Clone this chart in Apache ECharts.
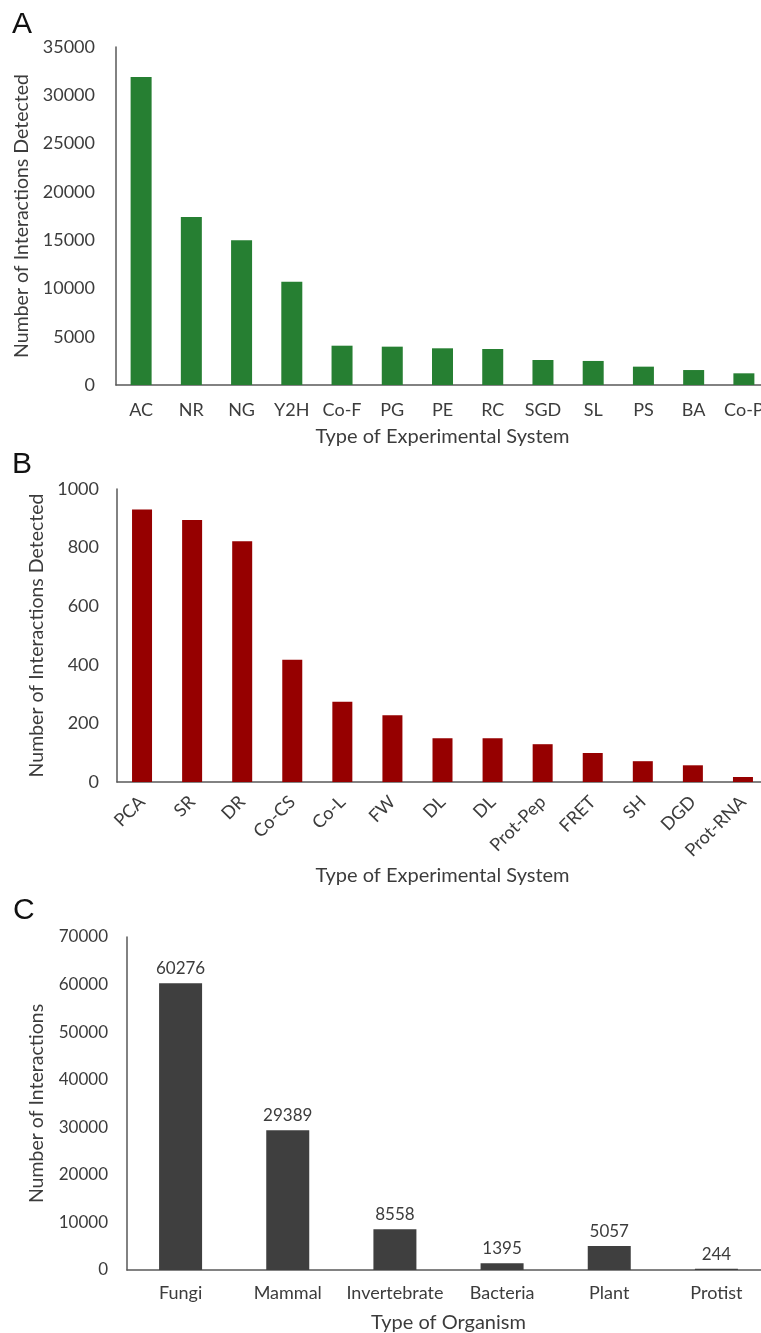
<!DOCTYPE html>
<html><head><meta charset="utf-8">
<script src="https://cdn.jsdelivr.net/npm/echarts@6/dist/echarts.min.js"></script>
<style>html,body{margin:0;padding:0;background:#fff}#c{width:761px;height:1333px}</style>
</head><body><div id="c"></div>
<script>
const catsA = ['AC','NR','NG','Y2H','Co-F','PG','PE','RC','SGD','SL','PS','BA','Co-P'];
const valsA = [31900, 17400, 15000, 10700, 4070, 3970, 3800, 3730, 2590, 2490, 1900, 1550, 1210];
const catsB = ['PCA','SR','DR','Co-CS','Co-L','FW','DL','DL','Prot-Pep','FRET','SH','DGD','Prot-RNA'];
const valsB = [930, 894, 822, 417, 274, 228, 149, 149, 129, 99, 71, 57, 17];
const catsC = ['Fungi','Mammal','Invertebrate','Bacteria','Plant','Protist'];
const valsC = [60276, 29389, 8558, 1395, 5057, 244];
const yNameA = 'Number of Interactions Detected';
const yNameB = 'Number of Interactions Detected';
const yNameC = 'Number of Interactions';
const xNameAB = 'Type of Experimental System';
const xNameC = 'Type of Organism';

const FONT = 'Lato, "Open Sans", sans-serif';
const TXT = '#3c3c3c';
const AX = '#595959';
const chart = echarts.init(document.getElementById('c'), null, {renderer:'canvas'});
const plain = v => String(v);

function xAx(gi, cats, opts){
  return Object.assign({
    type:'category', gridIndex:gi, data:cats,
    axisTick:{show:false},
    axisLine:{lineStyle:{color:AX,width:1.5}},
    axisLabel:{color:TXT,fontFamily:FONT,fontSize:18,margin:16,interval:0},
    nameLocation:'middle', nameTextStyle:{color:TXT,fontFamily:FONT,fontSize:20}
  }, opts);
}
function yAx(gi, max, interval, opts){
  return Object.assign({
    type:'value', gridIndex:gi, min:0, max:max, interval:interval,
    splitLine:{show:false}, axisTick:{show:false},
    axisLine:{show:true,lineStyle:{color:AX,width:1.5}},
    nameLocation:'middle', nameTextStyle:{color:TXT,fontFamily:FONT,fontSize:19.5}
  }, opts);
}

chart.setOption({
  animation:false,
  backgroundColor:'#fff',
  title:[
    {text:'A',left:12,top:10,padding:0,textStyle:{fontFamily:'"Liberation Sans", Arial',fontSize:30,fontWeight:'normal',color:'#111'}},
    {text:'B',left:12,top:450,padding:0,textStyle:{fontFamily:'"Liberation Sans", Arial',fontSize:30,fontWeight:'normal',color:'#111'}},
    {text:'C',left:13,top:896,padding:0,textStyle:{fontFamily:'"Liberation Sans", Arial',fontSize:30,fontWeight:'normal',color:'#111'}}
  ],
  grid:[
    {left:116, top:47, width:653, height:338, outerBoundsMode:'none', containLabel:false},
    {left:117, top:489, width:651, height:293, outerBoundsMode:'none', containLabel:false},
    {left:127, top:937, width:643, height:333, outerBoundsMode:'none', containLabel:false}
  ],
  xAxis:[
    xAx(0, catsA, {name:xNameAB, nameGap:42}),
    xAx(1, catsB, {name:xNameAB, nameGap:84, axisLabel:{color:TXT,fontFamily:FONT,fontSize:18,margin:17,interval:0,rotate:45}}),
    xAx(2, catsC, {name:xNameC, nameGap:43, axisLabel:{color:TXT,fontFamily:FONT,fontSize:18,margin:14,interval:0}})
  ],
  yAxis:[
    yAx(0, 35000, 5000, {name:yNameA, nameGap:82, axisLabel:{color:TXT,fontFamily:FONT,fontSize:18,margin:21,formatter:plain}}),
    yAx(1, 1000, 200, {name:yNameB, nameGap:69, axisLabel:{color:TXT,fontFamily:FONT,fontSize:18,margin:18,formatter:plain}}),
    yAx(2, 70000, 10000, {name:yNameC, nameGap:80, axisLabel:{color:TXT,fontFamily:FONT,fontSize:17,margin:19,formatter:plain}})
  ],
  series:[
    {type:'bar', xAxisIndex:0, yAxisIndex:0, data:valsA, barWidth:21, itemStyle:{color:'#267f32'}},
    {type:'bar', xAxisIndex:1, yAxisIndex:1, data:valsB, barWidth:20, itemStyle:{color:'#960000'}},
    {type:'bar', xAxisIndex:2, yAxisIndex:2, data:valsC, barWidth:43, itemStyle:{color:'#3f3f3f'},
     label:{show:true, position:'top', distance:6, color:TXT, fontFamily:FONT, fontSize:17}}
  ]
});
</script></body></html>
